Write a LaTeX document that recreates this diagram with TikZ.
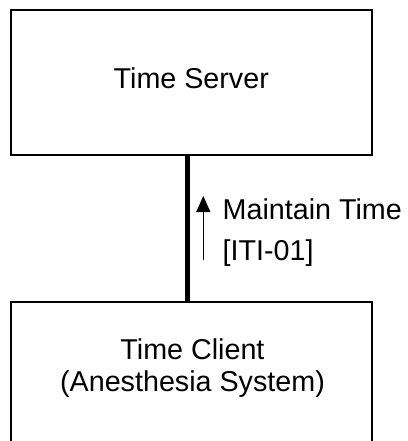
\documentclass[tikz,border=0pt]{standalone}
\usepackage{fontspec}
\setmainfont{Liberation Sans}
\usetikzlibrary{arrows.meta}
\begin{document}
\begin{tikzpicture}[x=1bp,y=-1bp,
  box/.style={draw=black,line width=2bp,minimum width=360.5bp,inner sep=0pt,outer sep=0pt},
  lbl/.style={inner sep=0pt,outer sep=0pt,font=\fontsize{28.8pt}{34pt}\selectfont},
  link/.style={line width=5.5bp},
  flow/.style={line width=1.3bp,-{Triangle[length=16bp,width=14bp]}}]
\useasboundingbox (0,0) rectangle (407,441);
\clip (0,0) rectangle (407,441);
\fill[white] (0,0) rectangle (407,441);
\node[box,minimum height=145.5bp] (server) at (191.25,82.75) {};
\node[box,minimum height=158.3bp] (client) at (191.25,380.85) {};
\node[lbl,anchor=base] (servertxt) at (191.25,88.3) {Time Server};
\node[lbl,anchor=base] (clienttxt1) at (192.5,359.3) {Time Client};
\node[lbl,anchor=base] (clienttxt2) at (192.5,391.7) {(Anesthesia System)};
\draw[link] ([xshift=-4bp]server.south) -- ([xshift=-4bp]client.north);
\coordinate (flowstart) at (203.3,260);
\coordinate (flowend) at (203.3,196);
\draw[flow] (flowstart) -- (flowend);
\node[lbl,anchor=base west] (flowtxt1) at (222.7,220) {Maintain Time};
\node[lbl,anchor=base west] (flowtxt2) at (222.7,260) {[ITI-01]};
\end{tikzpicture}
\end{document}
